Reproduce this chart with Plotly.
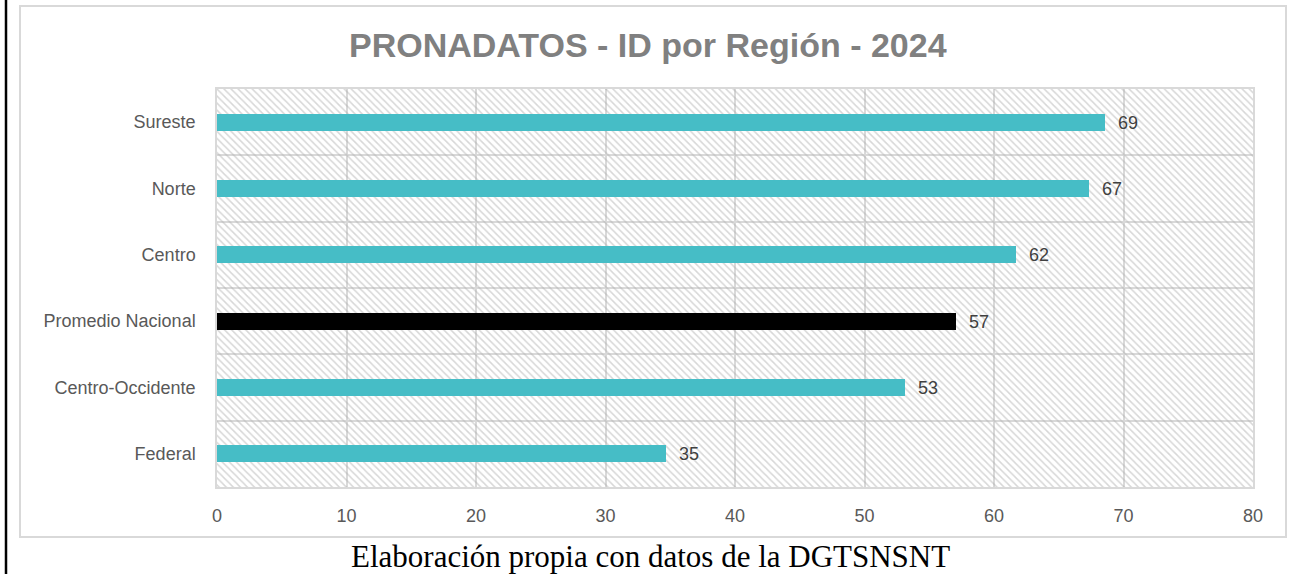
import plotly.graph_objects as go

# ---- data ----
regions = ["Federal", "Centro-Occidente", "Promedio Nacional", "Centro", "Norte", "Sureste"]
scores = [34.7, 53.1, 57.1, 61.7, 67.3, 68.6]
bar_colors = ["#46BDC6", "#46BDC6", "#000000", "#46BDC6", "#46BDC6", "#46BDC6"]
x_ticks = [0, 10, 20, 30, 40, 50, 60, 70, 80]
x_max = 80
title_text = "PRONADATOS - ID por Región - 2024"
caption_text = "Elaboración propia con datos de la DGTSNSNT"

W, H = 1291, 574
L, R, T, B = 217, 38, 89, 87
pw, ph = W - L - R, H - T - B


def px(x):
    return (x - L) / pw


def py(y):
    return (H - B - y) / ph


fig = go.Figure()

# hatched plot background, one band per category
fig.add_trace(go.Bar(
    y=regions, x=[x_max] * len(regions), orientation="h", width=1,
    marker=dict(color="rgba(0,0,0,0)", line=dict(width=0),
                pattern=dict(shape="\\", fgcolor="#b0b0b0", bgcolor="rgba(0,0,0,0)",
                             size=5, solidity=0.3)),
    hoverinfo="skip", showlegend=False,
))

fig.add_trace(go.Bar(
    y=regions, x=scores, orientation="h", width=0.26,
    marker=dict(color=bar_colors, line=dict(width=0)),
    texttemplate="\u00a0\u00a0%{x:.0f}", textposition="outside", cliponaxis=False,
    constraintext="none",
    textfont=dict(family="Liberation Sans, Arial", size=18, color="#404040"),
    showlegend=False,
))

fig.update_layout(
    width=W, height=H,
    margin=dict(l=L, r=R, t=T, b=B),
    paper_bgcolor="white", plot_bgcolor="white",
    barmode="overlay", bargap=0,
    xaxis=dict(range=[0, x_max], tickvals=x_ticks, showgrid=True, gridcolor="#d9d9d9",
               gridwidth=1.5, zeroline=False, showline=True, linecolor="#d9d9d9",
               linewidth=1.5, mirror=True, ticks="", ticklabelstandoff=12,
               tickfont=dict(family="Liberation Sans, Arial", size=18, color="#595959")),
    yaxis=dict(type="category", categoryorder="array", categoryarray=regions,
               tickson="boundaries", showgrid=True, gridcolor="#d9d9d9", gridwidth=1.5,
               showline=True, linecolor="#d9d9d9", linewidth=1.5, mirror=True,
               ticks="", ticklabelstandoff=16,
               tickfont=dict(family="Liberation Sans, Arial", size=18, color="#595959")),
    font=dict(family="Liberation Sans, Arial"),
)

# chart box and page frame line
fig.add_shape(type="rect", xref="paper", yref="paper",
              x0=px(20), x1=px(1286), y0=py(537), y1=py(6),
              line=dict(color="#d9d9d9", width=2), layer="below")
fig.add_shape(type="line", xref="paper", yref="paper",
              x0=px(6), x1=px(6), y0=py(574), y1=py(0),
              line=dict(color="#000000", width=2.5))

fig.add_annotation(text="<b>" + title_text + "</b>", xref="paper", yref="paper",
                   x=px(648), y=py(45), xanchor="center", yanchor="middle", showarrow=False,
                   font=dict(family="Liberation Sans, Arial", size=34, color="#808080"))
fig.add_annotation(text=caption_text, xref="paper", yref="paper",
                   x=px(650), y=py(556), xanchor="center", yanchor="middle", showarrow=False,
                   font=dict(family="Liberation Serif, Times New Roman", size=31, color="#000000"))

fig.write_html("out.html", config={"displayModeBar": False},
               post_script="document.body.style.margin='0';document.body.style.overflow='hidden';")
